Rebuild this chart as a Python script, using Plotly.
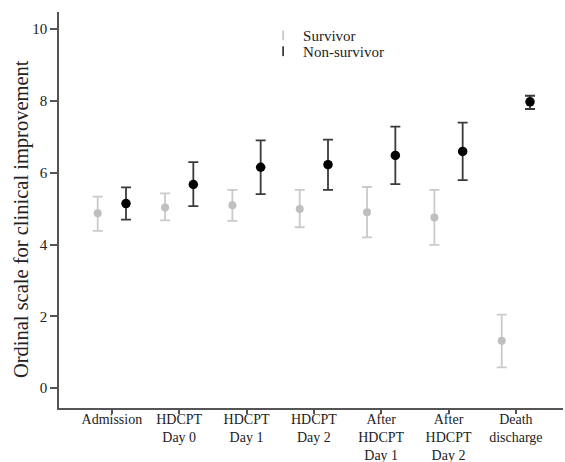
import plotly.graph_objects as go

categories = ["Admission", "HDCPT<br>Day 0", "HDCPT<br>Day 1", "HDCPT<br>Day 2",
              "After<br>HDCPT<br>Day 1", "After<br>HDCPT<br>Day 2", "Death<br>discharge"]

surv_mean = [4.87, 5.03, 5.09, 4.99, 4.90, 4.75, 1.32]
surv_upper = [5.33, 5.42, 5.52, 5.52, 5.60, 5.52, 2.05]
surv_lower = [4.38, 4.67, 4.66, 4.48, 4.20, 3.99, 0.58]

non_mean = [5.14, 5.67, 6.15, 6.22, 6.48, 6.59, 7.97]
non_upper = [5.59, 6.29, 6.90, 6.92, 7.28, 7.39, 8.14]
non_lower = [4.69, 5.07, 5.40, 5.52, 5.68, 5.79, 7.77]

y_ticks = [0, 2, 4, 6, 8, 10]

SURV_MARK = "#bfbfbf"
SURV_ERR = "#cacaca"
NON_MARK = "#000000"
NON_ERR = "#3a3a3a"
FONT = "Liberation Serif"

fig = go.Figure()

fig.add_trace(go.Scatter(
    x=categories, y=surv_mean, mode="markers", name="Survivor", showlegend=False,
    offsetgroup="s",
    marker=dict(color=SURV_MARK, size=8),
    error_y=dict(type="data", symmetric=False,
                 array=[u - m for u, m in zip(surv_upper, surv_mean)],
                 arrayminus=[m - l for m, l in zip(surv_mean, surv_lower)],
                 color=SURV_ERR, thickness=1.8, width=5),
))
fig.add_trace(go.Scatter(
    x=categories, y=non_mean, mode="markers", name="Non-survivor", showlegend=False,
    offsetgroup="n",
    marker=dict(color=NON_MARK, size=9.5),
    error_y=dict(type="data", symmetric=False,
                 array=[u - m for u, m in zip(non_upper, non_mean)],
                 arrayminus=[m - l for m, l in zip(non_mean, non_lower)],
                 color=NON_ERR, thickness=1.8, width=5),
))

# legend-only entries
fig.add_trace(go.Scatter(x=[None], y=[None], mode="markers", name="Survivor",
                         offsetgroup="s", legend="legend",
                         marker=dict(symbol="line-ns-open", size=7, color=SURV_ERR,
                                     line=dict(color=SURV_ERR, width=1.8))))
fig.add_trace(go.Scatter(x=[None], y=[None], mode="markers", name="Non-survivor",
                         offsetgroup="n", legend="legend2",
                         marker=dict(symbol="line-ns-open", size=7, color=NON_ERR,
                                     line=dict(color=NON_ERR, width=1.8))))

leg_common = dict(xanchor="left", yanchor="top",
                  font=dict(family=FONT, size=15, color="#222222"),
                  bgcolor="rgba(0,0,0,0)", itemwidth=30)

fig.update_layout(
    width=565, height=462,
    margin=dict(l=59, r=2, t=12, b=54),
    paper_bgcolor="white", plot_bgcolor="white",
    font=dict(family=FONT, color="#222222", size=15),
    scattermode="group", scattergap=0.16,
    legend=dict(x=0.405, y=0.982, **leg_common),
    legend2=dict(x=0.405, y=0.942, **leg_common),
    xaxis=dict(type="category", range=[-0.785, 6.7], showgrid=False, zeroline=False,
               automargin=False, ticklabelstandoff=-7,
               showline=True, linecolor="#555555", linewidth=1.5,
               ticks="outside", ticklen=4, tickcolor="#555555", tickwidth=1.5,
               tickfont=dict(family=FONT, size=14, color="#222222")),
    yaxis=dict(range=[-0.55, 10.47], tickvals=y_ticks, showgrid=False, zeroline=False,
               automargin=False,
               showline=True, linecolor="#555555", linewidth=1.5,
               ticks="outside", ticklen=7, tickcolor="#555555", tickwidth=1.5,
               tickfont=dict(family=FONT, size=15, color="#222222")),
    annotations=[dict(text="Ordinal scale for clinical improvement", textangle=-90,
                      xref="paper", yref="paper", x=-0.0754, y=0.477,
                      xanchor="center", yanchor="middle",
                      showarrow=False, font=dict(family=FONT, size=20.5, color="#222222"))],
)

fig.write_html("out.html")
